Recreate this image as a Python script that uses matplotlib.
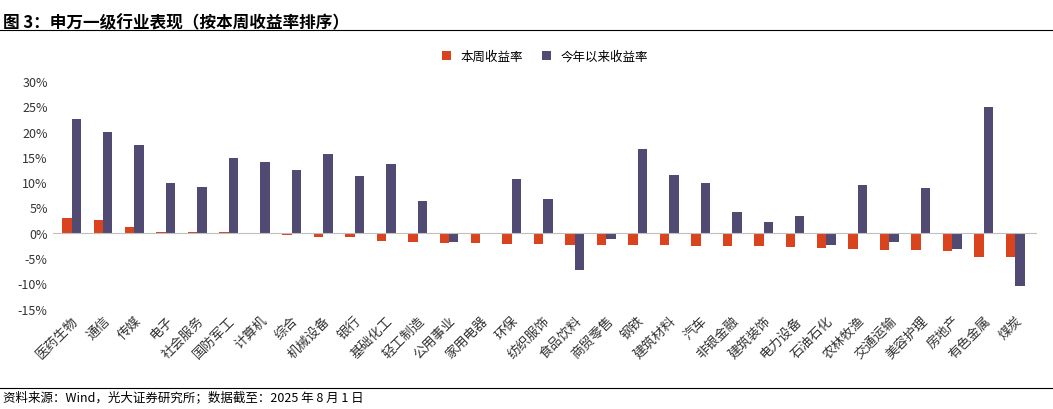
import matplotlib
matplotlib.use("Agg")
import matplotlib.pyplot as plt
import numpy as np
from matplotlib.lines import Line2D

plt.rcParams['font.family'] = ['Noto Sans CJK SC', 'DejaVu Sans']

categories = ["医药生物","通信","传媒","电子","社会服务","国防军工","计算机","综合","机械设备","银行",
              "基础化工","轻工制造","公用事业","家用电器","环保","纺织服饰","食品饮料","商贸零售","钢铁","建筑材料",
              "汽车","非银金融","建筑装饰","电力设备","石油石化","农林牧渔","交通运输","美容护理","房地产","有色金属","煤炭"]
weekly = [3.0,2.6,1.2,0.2,0.1,0.1,-0.3,-0.5,-0.9,-0.9,-1.7,-1.8,-2.0,-2.1,-2.2,-2.3,-2.4,-2.4,-2.5,-2.5,
          -2.6,-2.6,-2.6,-2.8,-3.1,-3.2,-3.4,-3.5,-3.6,-4.8,-4.9]
ytd = [22.4,20.0,17.3,9.9,9.1,14.8,13.9,12.4,15.6,11.2,13.6,6.2,-1.8,-0.3,10.7,6.6,-7.3,-1.3,16.5,11.4,
       9.8,4.1,2.1,3.4,-2.5,9.5,-1.8,8.9,-3.3,24.8,-10.5]
yticks = [-15,-10,-5,0,5,10,15,20,25,30]

red = "#D9441F"
purple = "#514A72"

fig = plt.figure(figsize=(10.53,4.10), dpi=100)
fig.text(0.003, 0.965, "图 3：申万一级行业表现（按本周收益率排序）", fontsize=12, fontweight='bold', va='top')
fig.add_artist(Line2D([0,1],[0.925,0.925], color='black', lw=0.8))
fig.add_artist(Line2D([0,1],[0.052,0.052], color='black', lw=0.8))
fig.text(0.003, 0.03, "资料来源：Wind，光大证券研究所；数据截至：2025 年 8 月 1 日", fontsize=9, va='center')

ax = fig.add_axes([0.05, 0.245, 0.935, 0.555])
x = np.arange(len(categories))
w = 0.3
ax.bar(x-w/2, weekly, w, color=red, label="本周收益率")
ax.bar(x+w/2, ytd, w, color=purple, label="今年以来收益率")
ax.set_ylim(-15,30)
ax.set_yticks(yticks)
ax.set_yticklabels([f"{v}%" for v in yticks], fontsize=9, color='#333333')
ax.set_xlim(-0.6, len(categories)-0.3)
ax.set_xticks(x)
ax.set_xticklabels(categories, rotation=45, ha='right', rotation_mode='anchor', fontsize=9.5, color='#333333')
ax.axhline(0, color='#BFBFBF', lw=0.8)
for s in ax.spines.values():
    s.set_visible(False)
ax.tick_params(length=0)
ax.legend(loc='lower center', bbox_to_anchor=(0.5, 1.03), ncol=2, frameon=False, fontsize=9,
          handlelength=0.7, handleheight=0.7, columnspacing=1.5)
fig.savefig("out.png", dpi=100)
